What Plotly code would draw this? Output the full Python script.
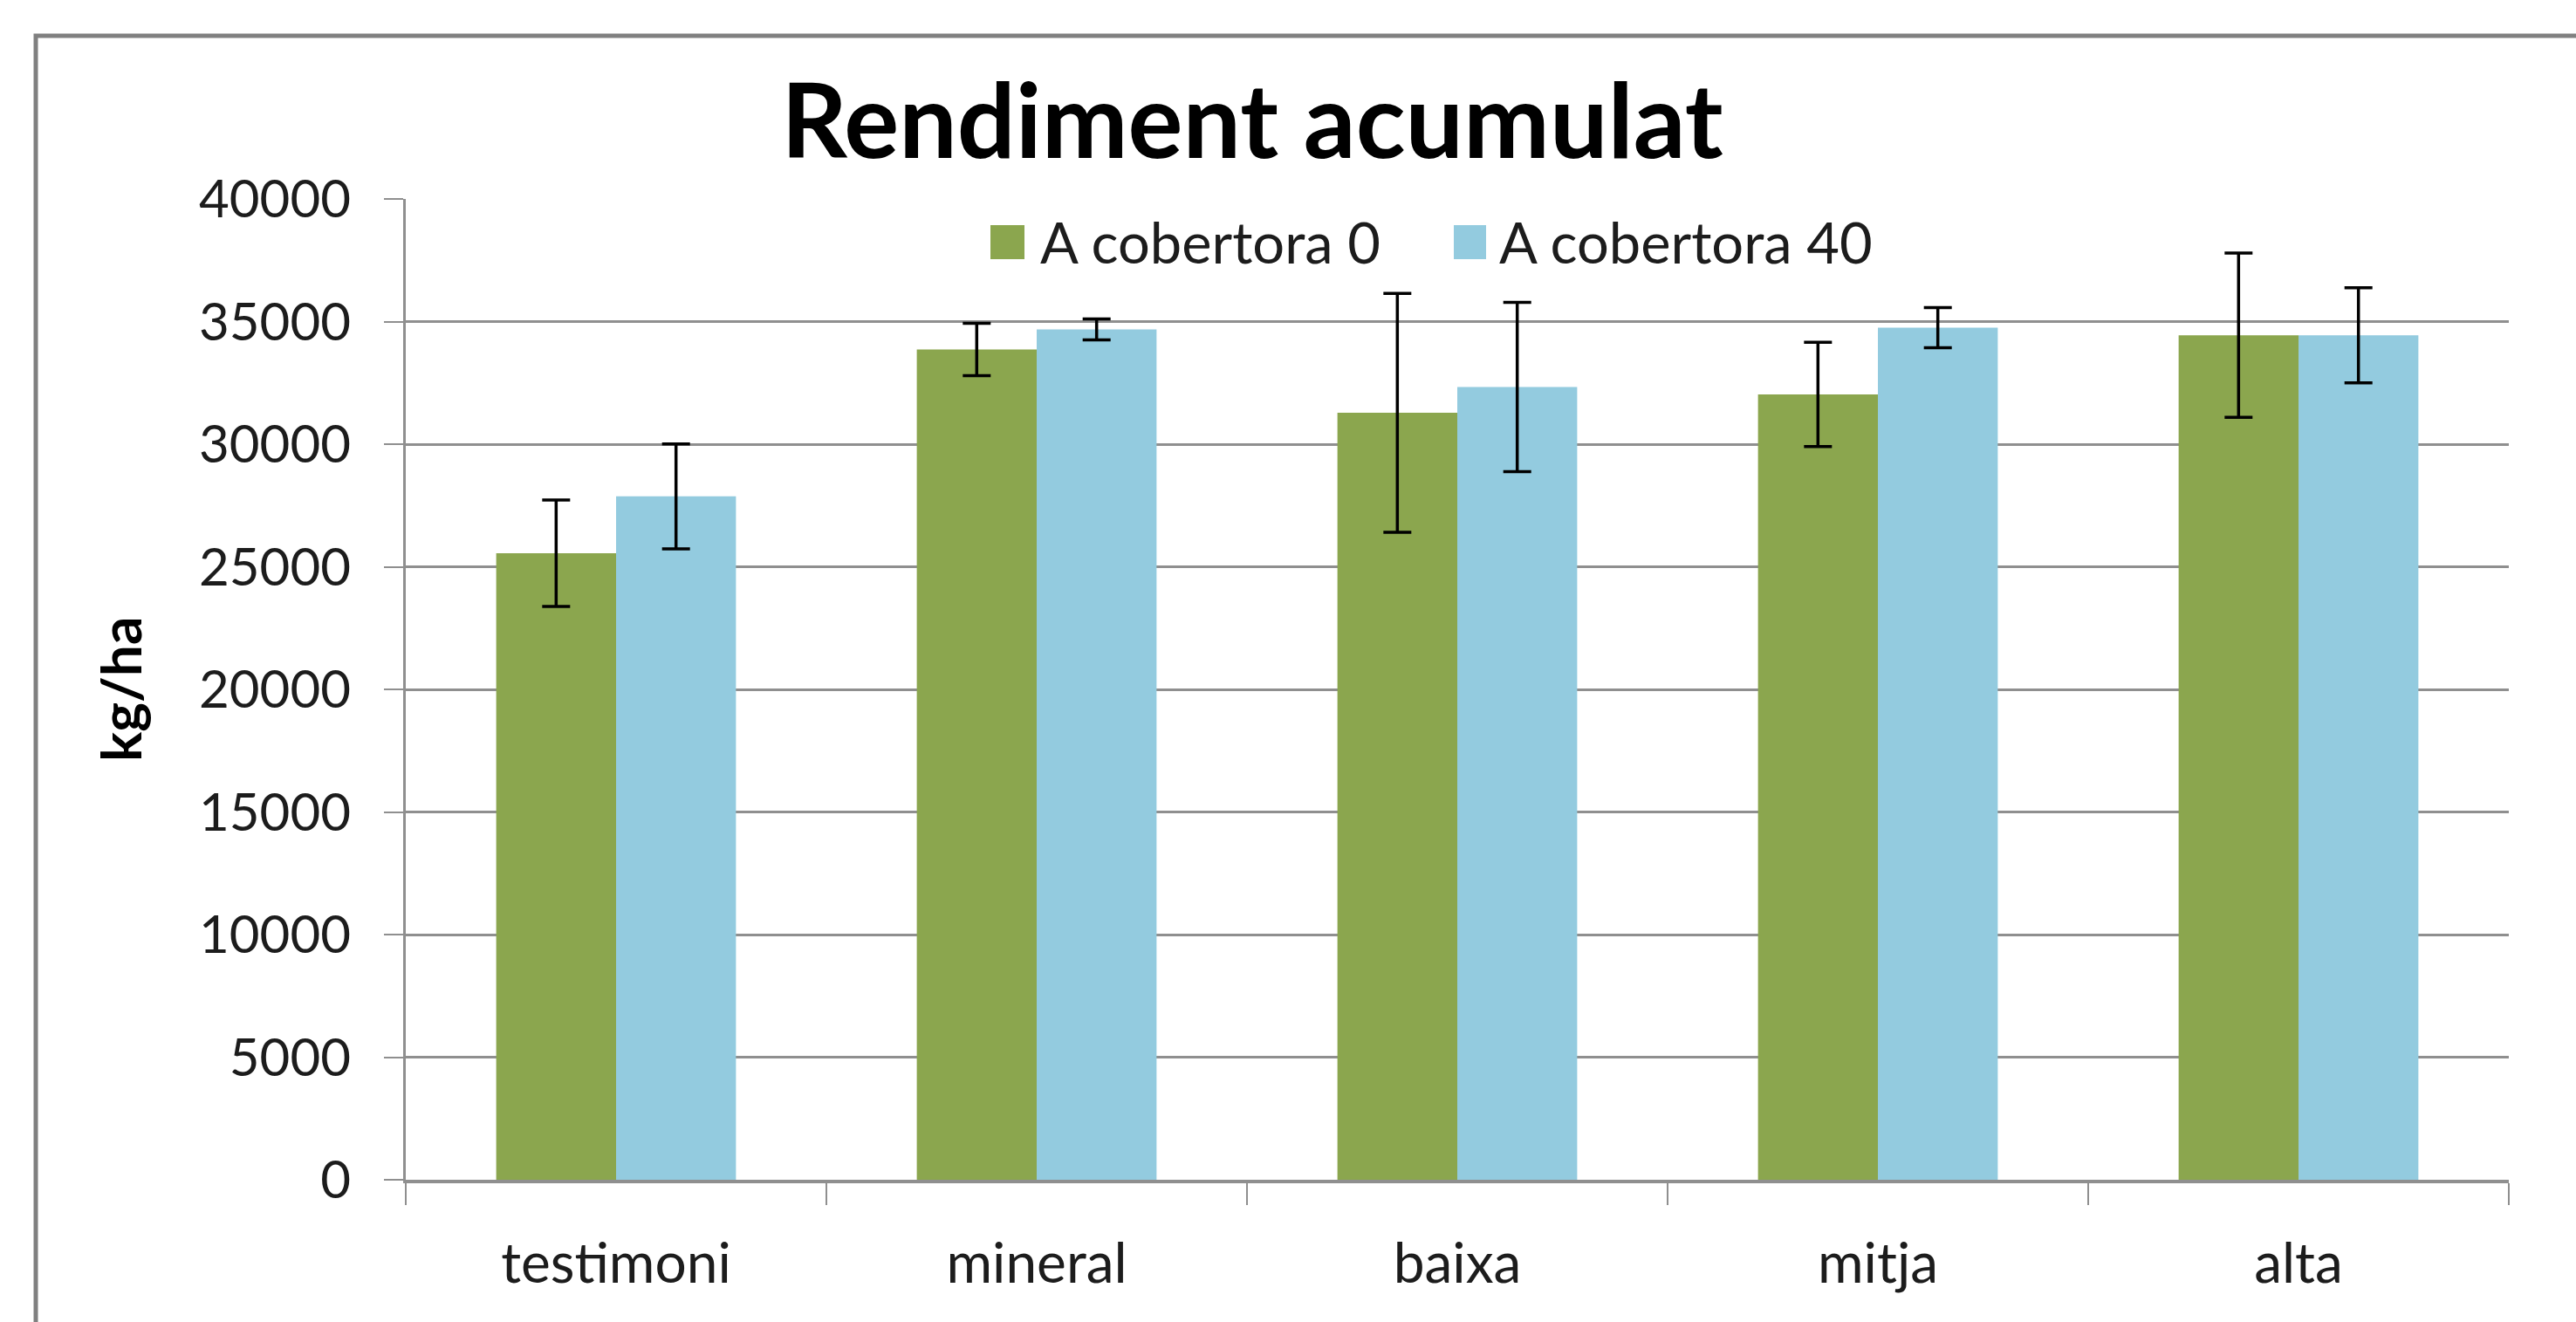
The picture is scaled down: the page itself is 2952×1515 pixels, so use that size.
import plotly.graph_objects as go

# ---- data ----
categories = ["testimoni", "mineral", "baixa", "mitja", "alta"]
series_names = ["A cobertora 0", "A cobertora 40"]
cob0_values = [25550, 33860, 31280, 32030, 34440]
cob0_errors = [2170, 1070, 4870, 2125, 3350]
cob40_values = [27870, 34680, 32330, 34750, 34440]
cob40_errors = [2140, 430, 3450, 820, 1940]
y_ticks = [0, 5000, 10000, 15000, 20000, 25000, 30000, 35000, 40000]

title_text = "Rendiment acumulat"
y_title = "kg/ha"

# ---- style ----
W, H = 2952, 1515
L, R, T, B = 465, 2875, 228, 1352  # plot area in pixels
GREEN = "#8ba64e"
BLUE = "#93cbdf"
GRID = "#8f8f8f"
FONT = "Lato"
TXT = "#1c1c1c"


def px_x(px):
    return (px - L) / (R - L)


def px_y(py):
    return (B - py) / (B - T)


fig = go.Figure()
err_style = dict(type="data", symmetric=True, color="black", thickness=3.5, width=16)
fig.add_trace(go.Bar(x=categories, y=cob0_values, name=series_names[0],
                     marker=dict(color=GREEN, line=dict(width=0)),
                     error_y=dict(array=cob0_errors, **err_style)))
fig.add_trace(go.Bar(x=categories, y=cob40_values, name=series_names[1],
                     marker=dict(color=BLUE, line=dict(width=0)),
                     error_y=dict(array=cob40_errors, **err_style)))

fig.update_layout(
    width=W, height=H,
    margin=dict(l=L, r=W - R, t=T, b=H - B, pad=0),
    paper_bgcolor="white", plot_bgcolor="white",
    barmode="group", bargap=0.43, bargroupgap=0,
    showlegend=False,
    font=dict(family=FONT, size=60, color=TXT),
    title=dict(text=title_text, x=1435 / W, xanchor="center",
               y=1 - 140 / H, yanchor="middle",
               font=dict(family=FONT, size=118, color="black", weight="bold")),
)

fig.update_xaxes(
    type="category", showgrid=False,
    showline=True, linecolor=GRID, linewidth=4,
    ticks="outside", tickson="boundaries", ticklen=25, tickwidth=2, tickcolor=GRID,
    tickfont=dict(family=FONT, size=64, color=TXT),
    ticklabelstandoff=37,
)
fig.update_yaxes(
    range=[0, 40000], tickvals=y_ticks, tickformat="d",
    showgrid=True, gridcolor=GRID, gridwidth=3,
    showline=True, linecolor=GRID, linewidth=3,
    ticks="outside", ticklen=22, tickwidth=2, tickcolor=GRID,
    tickfont=dict(family=FONT, size=60, color=TXT),
    ticklabelstandoff=26,
    zeroline=False,
)

# y-axis title
fig.add_annotation(text=y_title, xref="paper", yref="paper",
                   x=px_x(137), y=px_y(790), showarrow=False, textangle=-90,
                   xanchor="center", yanchor="middle",
                   font=dict(family=FONT, size=64, color="black", weight="bold"))

# custom legend (large square swatches)
legend_items = [(series_names[0], GREEN, 1135, 1174, 1190),
                (series_names[1], BLUE, 1666, 1703, 1716)]
for name, col, sx0, sx1, tx in legend_items:
    fig.add_shape(type="rect", xref="paper", yref="paper",
                  x0=px_x(sx0), x1=px_x(sx1), y0=px_y(297), y1=px_y(258),
                  fillcolor=col, line=dict(width=0))
    fig.add_annotation(text=name, xref="paper", yref="paper",
                       x=px_x(tx), y=px_y(277), showarrow=False,
                       xanchor="left", yanchor="middle",
                       font=dict(family=FONT, size=65, color=TXT))

# outer chart border (extends past the bottom/right of the picture)
fig.add_shape(type="rect", xref="paper", yref="paper",
              x0=px_x(41), x1=px_x(3100), y0=px_y(1700), y1=px_y(41),
              line=dict(color="#808080", width=5), fillcolor="rgba(0,0,0,0)",
              layer="below")

fig.write_html("out.html", config={"displayModeBar": False},
               post_script="document.body.style.margin='0';")
